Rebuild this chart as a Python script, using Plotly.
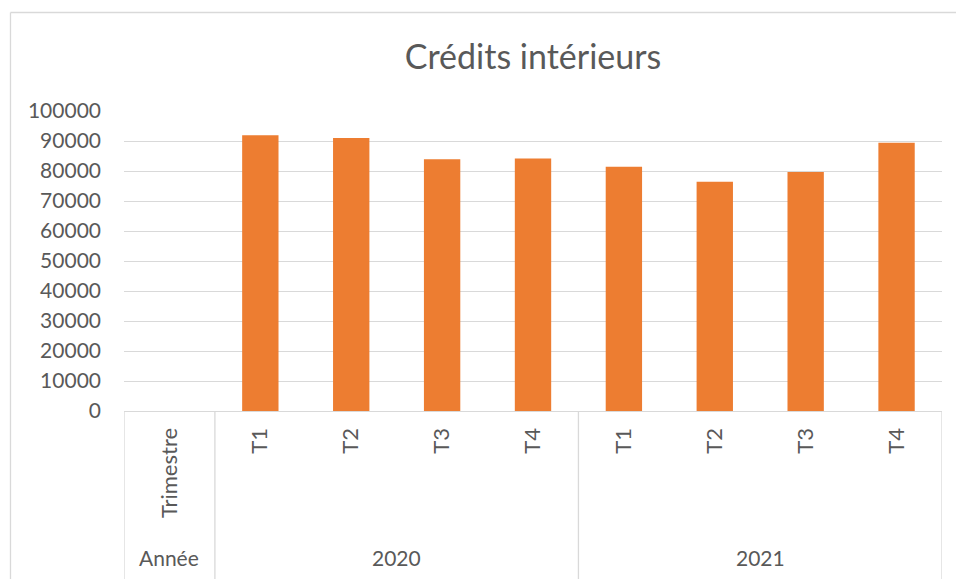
import plotly.graph_objects as go

# data
years = ["2020", "2021"]
quarters = ["T1", "T2", "T3", "T4", "T1", "T2", "T3", "T4"]
credits = [91900, 91000, 83900, 84200, 81400, 76400, 79700, 89400]
y_ticks = list(range(0, 100001, 10000))

COLORS = {
    "bar": "#ED7D31",
    "text": "#595959",
    "grid": "#D9D9D9",
}
FONT = "Lato, 'Open Sans', sans-serif"

W, H = 956, 579
M = dict(l=124, r=14, t=111, b=168)

positions = list(range(1, len(credits) + 1))
n_cat = len(credits) + 1  # first slot holds the header column


def px_x(px):
    return (px - M["l"]) / (W - M["l"] - M["r"])


def px_y(py):
    return (H - M["b"] - py) / (H - M["t"] - M["b"])


fig = go.Figure(go.Bar(
    x=positions, y=credits, width=0.4,
    marker=dict(color=COLORS["bar"], line=dict(width=0)),
    hovertemplate="%{y}<extra></extra>",
))

# table lines under the axis
dividers = [-0.5, 0.5, 0.5 + len(quarters) / 2, n_cat - 0.5]
shapes = [
    dict(type="line", xref="x", yref="paper", x0=d, x1=d, y0=0, y1=px_y(H + 5),
         line=dict(color=COLORS["grid"], width=1.3))
    for d in dividers
]
# outer chart border (top + left edge)
shapes.append(dict(type="line", xref="paper", yref="paper",
                   x0=px_x(10.5), x1=px_x(W + 5), y0=px_y(12.5), y1=px_y(12.5),
                   line=dict(color=COLORS["grid"], width=1.3)))
shapes.append(dict(type="line", xref="paper", yref="paper",
                   x0=px_x(10.5), x1=px_x(10.5), y0=px_y(12.5), y1=px_y(H + 5),
                   line=dict(color=COLORS["grid"], width=1.3)))

per_year = len(quarters) // len(years)
annotations = [
    dict(x=1 + i * per_year + (per_year - 1) / 2, y=0, xref="x", yref="paper",
         text=yr, showarrow=False, yshift=-146, yanchor="middle",
         font=dict(size=21, color=COLORS["text"]))
    for i, yr in enumerate(years)
]
annotations.append(dict(x=0, y=0, xref="x", yref="paper", text="Année",
                        showarrow=False, yshift=-146, yanchor="middle",
                        font=dict(size=21, color=COLORS["text"])))

fig.update_layout(
    width=W, height=H,
    margin=M,
    paper_bgcolor="white", plot_bgcolor="white",
    font=dict(family=FONT, color=COLORS["text"], size=21),
    title=dict(text="Crédits intérieurs", x=0.5, xanchor="center", xref="paper",
               y=1 - 57 / H, yanchor="middle",
               font=dict(size=34, color=COLORS["text"])),
    xaxis=dict(
        range=[-0.5, n_cat - 0.5],
        tickvals=[0] + positions, ticktext=["Trimestre"] + quarters,
        tickangle=-90, showgrid=False, zeroline=False,
        showline=True, linecolor=COLORS["grid"], linewidth=1.3,
        ticks="", ticklabelstandoff=7,
        tickfont=dict(size=22, color=COLORS["text"]),
    ),
    yaxis=dict(
        range=[0, 100000], tickvals=y_ticks, ticktext=[str(v) for v in y_ticks],
        showgrid=True, gridcolor=COLORS["grid"], gridwidth=1.3,
        zeroline=False, showline=False, ticks="", ticklabelstandoff=22,
        tickfont=dict(size=21, color=COLORS["text"]),
    ),
    shapes=shapes,
    annotations=annotations,
    showlegend=False,
    bargap=0.6,
)

# drop the browser's default 8px body margin so the figure sits at (0, 0)
fig.write_html("out.html", config={"displayModeBar": False},
               post_script="document.body.style.margin = '0';")
